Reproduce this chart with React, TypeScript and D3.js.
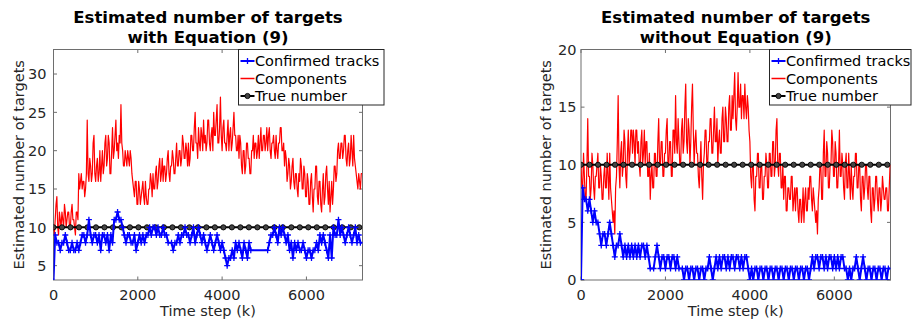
import React from 'react';
import * as d3 from 'd3';

// Sampling intervals (time steps) of the estimated series
const COMPONENT_STEP = 20;
const TRACK_STEP = 40;
// Spacing of the plotted ground-truth markers (time steps)
const TRUE_MARKER_STEP = 201.5;
const X_DOMAIN: [number, number] = [0, 7330];
const X_TICKS = [0, 2000, 4000, 6000];
const LEFT_Y_TICKS = [5, 10, 15, 20, 25, 30];
const RIGHT_Y_TICKS = [0, 5, 10, 15, 20];
const LEGEND_LABELS = ['Confirmed tracks', 'Components', 'True number'];

// Number of mixture components, with Equation (9)
const withEqComponents = [
  10, 9, 11, 13, 14, 10, 9, 12, 11, 10, 12, 11, 10, 13, 12, 10, 11, 12, 12, 10,
  10, 12, 13, 11, 11, 10, 9, 12, 12, 11, 17, 15, 16, 17, 15, 16, 16, 14, 15, 17,
  24, 17, 16, 19, 18, 16, 17, 21, 22, 17, 16, 18, 19, 16, 17, 20, 16, 18, 20, 17,
  18, 21, 22, 18, 19, 22, 21, 17, 17, 20, 23, 19, 20, 22, 24, 20, 21, 19, 22, 21,
  26, 21, 20, 18, 18, 20, 19, 18, 20, 19, 18, 20, 19, 17, 16, 15, 14, 16, 16, 13,
  13, 16, 15, 13, 14, 15, 16, 14, 13, 16, 14, 13, 13, 15, 15, 17, 16, 14, 17, 15,
  15, 17, 18, 15, 16, 18, 19, 16, 17, 19, 16, 18, 18, 16, 17, 19, 20, 17, 16, 18,
  18, 20, 19, 17, 17, 19, 21, 18, 18, 20, 20, 18, 19, 22, 21, 19, 19, 21, 20, 18,
  21, 18, 19, 22, 22, 20, 20, 23, 25, 21, 21, 19, 23, 21, 20, 23, 22, 20, 24, 21,
  22, 20, 21, 24, 24, 21, 20, 22, 23, 20, 25, 22, 22, 24, 26, 21, 21, 23, 27, 22,
  20, 23, 24, 21, 21, 20, 22, 24, 20, 22, 23, 20, 21, 23, 25, 22, 22, 20, 20, 22,
  19, 22, 21, 18, 17, 20, 20, 17, 18, 21, 21, 19, 19, 17, 17, 20, 20, 22, 19, 21,
  21, 19, 20, 22, 19, 21, 23, 20, 20, 22, 22, 20, 21, 23, 20, 22, 23, 20, 19, 21,
  21, 22, 20, 19, 22, 20, 19, 21, 21, 23, 23, 20, 20, 21, 18, 20, 19, 16, 17, 19,
  18, 15, 16, 18, 19, 16, 15, 17, 17, 15, 14, 17, 16, 19, 18, 15, 15, 18, 17, 14,
  14, 17, 16, 13, 13, 16, 17, 14, 12, 15, 15, 18, 18, 14, 13, 16, 16, 13, 12, 15,
  17, 13, 14, 17, 18, 15, 13, 16, 12, 14, 16, 13, 15, 18, 18, 16, 17, 20, 21, 19,
  19, 21, 21, 19, 20, 22, 22, 19, 18, 20, 21, 18, 19, 22, 20, 18, 22, 19, 18, 17,
  16, 15, 17, 16, 15, 17, 17,
];

// Number of confirmed tracks, with Equation (9)
const withEqConfirmed = [
  3, 9, 8, 8, 7, 8, 8, 9, 8, 7,
  7, 8, 7, 7, 8, 7, 8, 9, 9, 8,
  9, 11, 9, 8, 9, 9, 8, 9, 7, 9,
  9, 8, 9, 7, 9, 8, 11, 11, 12, 11,
  11, 10, 9, 8, 9, 9, 8, 8, 9, 7,
  8, 9, 8, 9, 8, 9, 9, 10, 9, 10,
  10, 9, 10, 9, 9, 10, 9, 9, 8, 8,
  8, 7, 8, 8, 9, 8, 9, 9, 10, 9,
  9, 8, 9, 10, 8, 9, 10, 9, 8, 9,
  8, 7, 8, 9, 8, 7, 8, 9, 8, 7,
  8, 7, 6, 5, 6, 6, 7, 6, 8, 7,
  8, 7, 6, 8, 7, 6, 8, 7, 7, 7,
  7, 7, 7, 7, 7, 7, 7, 7, 8, 9,
  9, 10, 9, 8, 10, 9, 10, 9, 8, 9,
  7, 8, 6, 8, 7, 8, 7, 7, 8, 7,
  6, 7, 7, 6, 7, 7, 8, 7, 9, 8,
  9, 8, 7, 6, 9, 6, 10, 9, 9, 11,
  9, 10, 9, 8, 9, 10, 9, 8, 9, 10,
  8, 9, 8, 8,
];

// Number of mixture components, without Equation (9)
const withoutEqComponents = [
  10, 8, 8, 11, 9, 7, 7, 10, 14, 9, 9, 7, 8, 11, 10, 8, 7, 9, 9, 10,
  11, 8, 8, 10, 9, 7, 7, 9, 10, 8, 8, 11, 9, 7, 11, 8, 7, 6, 5, 6,
  4, 8, 9, 12, 16, 10, 8, 11, 12, 9, 10, 13, 12, 9, 8, 11, 13, 10, 11, 13,
  13, 11, 13, 12, 10, 13, 13, 11, 12, 10, 9, 12, 13, 10, 11, 13, 10, 12, 12, 9,
  9, 11, 7, 9, 10, 8, 8, 11, 11, 9, 9, 12, 14, 10, 10, 12, 12, 9, 9, 11,
  11, 13, 14, 10, 10, 12, 12, 9, 9, 13, 13, 11, 16, 12, 11, 14, 12, 10, 10, 13,
  14, 11, 12, 15, 17, 12, 11, 14, 13, 10, 12, 15, 17, 13, 10, 12, 13, 11, 11, 9,
  8, 10, 12, 9, 7, 10, 11, 13, 13, 10, 10, 12, 12, 14, 14, 11, 11, 13, 15, 12,
  12, 14, 10, 12, 13, 11, 11, 14, 15, 12, 12, 15, 14, 12, 12, 15, 16, 13, 13, 16,
  14, 16, 18, 14, 13, 15, 18, 15, 15, 17, 14, 16, 16, 14, 17, 15, 14, 16, 15, 13,
  12, 9, 8, 10, 10, 7, 6, 9, 9, 11, 11, 8, 8, 10, 10, 7, 7, 9, 9, 11,
  10, 8, 8, 11, 11, 9, 9, 12, 12, 9, 10, 13, 14, 10, 9, 11, 11, 8, 8, 10,
  7, 9, 9, 6, 6, 8, 8, 7, 7, 9, 9, 6, 7, 8, 6, 8, 8, 6, 5, 7,
  7, 5, 6, 8, 5, 7, 8, 6, 6, 8, 7, 9, 9, 7, 6, 8, 7, 6, 5, 6,
  4, 7, 8, 10, 10, 7, 7, 11, 13, 9, 9, 12, 11, 8, 8, 10, 10, 13, 12, 9,
  9, 12, 11, 8, 8, 10, 13, 9, 9, 11, 10, 8, 7, 10, 11, 8, 8, 11, 9, 7,
  10, 8, 7, 9, 9, 11, 11, 8, 8, 10, 10, 7, 6, 9, 9, 7, 8, 10, 10, 8,
  7, 9, 9, 6, 5, 8, 8, 6, 7, 9, 9, 7, 6, 8, 8, 6, 7, 9, 8, 7,
  7, 8, 8, 6, 6, 8, 10,
];

// Number of confirmed tracks, without Equation (9)
const withoutEqConfirmed = [
  0, 8, 7, 7, 6, 7, 6, 5, 6, 5,
  5, 4, 3, 4, 4, 3, 4, 5, 4, 3,
  2, 3, 3, 4, 3, 2, 3, 2, 3, 2,
  3, 2, 3, 2, 3, 2, 3, 3, 2, 3,
  2, 1, 1, 1, 2, 3, 2, 1, 2, 2,
  1, 2, 2, 1, 2, 2, 1, 2, 1, 1,
  1, 0, 1, 1, 0, 1, 1, 0, 1, 1,
  0, 1, 1, 0, 1, 1, 2, 1, 0, 1,
  2, 1, 2, 1, 2, 2, 1, 2, 1, 2,
  2, 1, 2, 2, 1, 2, 1, 2, 2, 1,
  0, 1, 0, 1, 1, 0, 1, 1, 0, 1,
  1, 0, 1, 1, 0, 1, 1, 0, 1, 1,
  0, 1, 1, 0, 1, 1, 0, 1, 1, 0,
  1, 1, 0, 1, 1, 0, 1, 2, 1, 2,
  2, 1, 2, 2, 1, 2, 1, 2, 2, 1,
  2, 1, 2, 1, 2, 2, 1, 1, 0, 1,
  0, 1, 1, 2, 1, 0, 1, 2, 1, 0,
  1, 1, 0, 1, 1, 0, 1, 1, 0, 1,
  1, 0, 1, 1,
];

// Ground-truth number of targets
const trueNumber = [
  10, 10, 10, 10, 10, 10, 10, 10, 10, 10,
  10, 10, 10, 10, 10, 10, 10, 10, 10, 10,
  10, 10, 10, 10, 10, 10, 10, 10, 10, 10,
  10, 10, 10, 10, 10, 10, 10,
];

const FONT = '"DejaVu Sans", "Liberation Sans", sans-serif';
const TEXT_COLOR = '#262626';
const AXIS_COLOR = '#6e6e6e';
const BLUE = '#0000ff';
const RED = '#ff0000';

type Box = { left: number; right: number; top: number; bottom: number };

interface PanelProps {
  id: string;
  box: Box;
  yDomain: [number, number];
  yTicks: number[];
  titleLines: string[];
  confirmed: number[];
  components: number[];
  yLabelX: number;
  yTickGap: number;
  legend: { left: number; right: number };
}

function plusPath(cx: number, cy: number, r: number) {
  return `M${cx - r},${cy}h${2 * r}M${cx},${cy - r}v${2 * r}`;
}

function Panel(p: PanelProps) {
  const { box } = p;
  const x = d3.scaleLinear().domain(X_DOMAIN).range([box.left, box.right]);
  const y = d3.scaleLinear().domain(p.yDomain).range([box.bottom, box.top]);

  const componentLine = d3
    .line<number>()
    .x((_, i) => x(i * COMPONENT_STEP))
    .y((d) => y(d));
  const trackLine = d3
    .line<number>()
    .x((_, i) => x(i * TRACK_STEP))
    .y((d) => y(d));
  const truthLine = d3
    .line<number>()
    .x((_, i) => x(i * TRUE_MARKER_STEP))
    .y((d) => y(d));

  // '+' markers where the confirmed-track count changes
  const markerIdx = p.confirmed
    .map((_, i) => i)
    .filter(
      (i) =>
        (i > 0 && p.confirmed[i] !== p.confirmed[i - 1]) ||
        (i < p.confirmed.length - 1 && p.confirmed[i] !== p.confirmed[i + 1])
    );

  const cx = (box.left + box.right) / 2;
  const cy = (box.top + box.bottom) / 2;
  const tickLen = 3.5;
  const clipId = `clip-${p.id}`;

  const lg = p.legend;
  const rowY = [61, 78.5, 96];
  const sampleX0 = lg.left + 2;
  const sampleX1 = lg.left + 16;

  return (
    <g>
      <defs>
        <clipPath id={clipId}>
          <rect x={box.left} y={box.top} width={box.right - box.left} height={box.bottom - box.top} />
        </clipPath>
      </defs>

      {/* title */}
      <text x={cx} textAnchor="middle" fontFamily={FONT} fontWeight="bold" fontSize={16.5} fill="#000">
        <tspan x={cx} y={22.5}>{p.titleLines[0]}</tspan>
        <tspan x={cx} y={43}>{p.titleLines[1]}</tspan>
      </text>

      {/* axes box */}
      <rect
        x={box.left}
        y={box.top}
        width={box.right - box.left}
        height={box.bottom - box.top}
        fill="#fff"
        stroke={AXIS_COLOR}
        strokeWidth={1}
      />

      {/* x ticks */}
      {X_TICKS.map((t) => (
        <g key={`x${t}`}>
          <line x1={x(t)} x2={x(t)} y1={box.bottom} y2={box.bottom - tickLen} stroke={AXIS_COLOR} />
          <line x1={x(t)} x2={x(t)} y1={box.top} y2={box.top + tickLen} stroke={AXIS_COLOR} />
          <text x={x(t)} y={300} textAnchor="middle" fontFamily={FONT} fontSize={14.5} fill={TEXT_COLOR}>
            {t}
          </text>
        </g>
      ))}

      {/* y ticks */}
      {p.yTicks.map((t) => (
        <g key={`y${t}`}>
          <line x1={box.left} x2={box.left + tickLen} y1={y(t)} y2={y(t)} stroke={AXIS_COLOR} />
          <line x1={box.right} x2={box.right - tickLen} y1={y(t)} y2={y(t)} stroke={AXIS_COLOR} />
          <text
            x={box.left - p.yTickGap}
            y={y(t)}
            dy="0.36em"
            textAnchor="end"
            fontFamily={FONT}
            fontSize={14.5}
            fill={TEXT_COLOR}
          >
            {t}
          </text>
        </g>
      ))}

      {/* axis labels */}
      <text x={cx} y={316} textAnchor="middle" fontFamily={FONT} fontSize={14.5} fill={TEXT_COLOR}>
        Time step (k)
      </text>
      <text
        transform={`translate(${p.yLabelX},${cy}) rotate(-90)`}
        textAnchor="middle"
        fontFamily={FONT}
        fontSize={14.5}
        fill={TEXT_COLOR}
      >
        Estimated number of targets
      </text>

      {/* data */}
      <g clipPath={`url(#${clipId})`}>
        <path d={componentLine(p.components) || ''} fill="none" stroke={RED} strokeWidth={1.2} strokeLinejoin="round" />
        <path d={truthLine(trueNumber) || ''} fill="none" stroke="#000" strokeWidth={2} />
        {trueNumber.map((v, i) => (
          <circle key={`c${i}`} cx={x(i * TRUE_MARKER_STEP)} cy={y(v)} r={2.6} fill="#444" stroke="#000" strokeWidth={0.9} />
        ))}
        <path d={trackLine(p.confirmed) || ''} fill="none" stroke={BLUE} strokeWidth={2} strokeLinejoin="round" />
        <path
          d={markerIdx.map((i) => plusPath(x(i * TRACK_STEP), y(p.confirmed[i]), 3)).join('')}
          fill="none"
          stroke={BLUE}
          strokeWidth={1.3}
        />
      </g>

      {/* legend */}
      <rect
        x={lg.left}
        y={box.top}
        width={lg.right - lg.left}
        height={105 - box.top}
        fill="#fff"
        stroke="#262626"
        strokeWidth={1}
      />
      <line x1={sampleX0} x2={sampleX1} y1={rowY[0]} y2={rowY[0]} stroke={BLUE} strokeWidth={2} />
      <path d={plusPath((sampleX0 + sampleX1) / 2, rowY[0], 3)} stroke={BLUE} strokeWidth={1.3} />
      <line x1={sampleX0} x2={sampleX1} y1={rowY[1]} y2={rowY[1]} stroke={RED} strokeWidth={1.5} />
      <line x1={sampleX0} x2={sampleX1} y1={rowY[2]} y2={rowY[2]} stroke="#000" strokeWidth={2} />
      <circle cx={(sampleX0 + sampleX1) / 2} cy={rowY[2]} r={2.6} fill="#444" stroke="#000" strokeWidth={0.9} />
      {LEGEND_LABELS.map((label, i) => (
        <text key={label} x={sampleX1 + 0.5} y={rowY[i]} dy="0.36em" fontFamily={FONT} fontSize={14.5} fill="#000">
          {label}
        </text>
      ))}
    </g>
  );
}

export default function App() {
  return (
    <svg
      width={912}
      height={322}
      viewBox="0 0 912 322"
      style={{ position: 'absolute', left: 0, top: 0, background: '#fff' }}
    >
      <rect width={912} height={322} fill="#fff" />
      <Panel
        id="with"
        box={{ left: 53.5, right: 362.5, top: 49.5, bottom: 280 }}
        yDomain={[3.13, 33.2]}
        yTicks={LEFT_Y_TICKS}
        titleLines={['Estimated number of targets', 'with Equation (9)']}
        confirmed={withEqConfirmed}
        components={withEqComponents}
        yLabelX={24}
        yTickGap={7}
        legend={{ left: 238.5, right: 384 }}
      />
      <Panel
        id="without"
        box={{ left: 581, right: 890.5, top: 49.5, bottom: 280 }}
        yDomain={[0, 20]}
        yTicks={RIGHT_Y_TICKS}
        titleLines={['Estimated number of targets', 'without Equation (9)']}
        confirmed={withoutEqConfirmed}
        components={withoutEqComponents}
        yLabelX={551}
        yTickGap={4.5}
        legend={{ left: 769.5, right: 911 }}
      />
    </svg>
  );
}
